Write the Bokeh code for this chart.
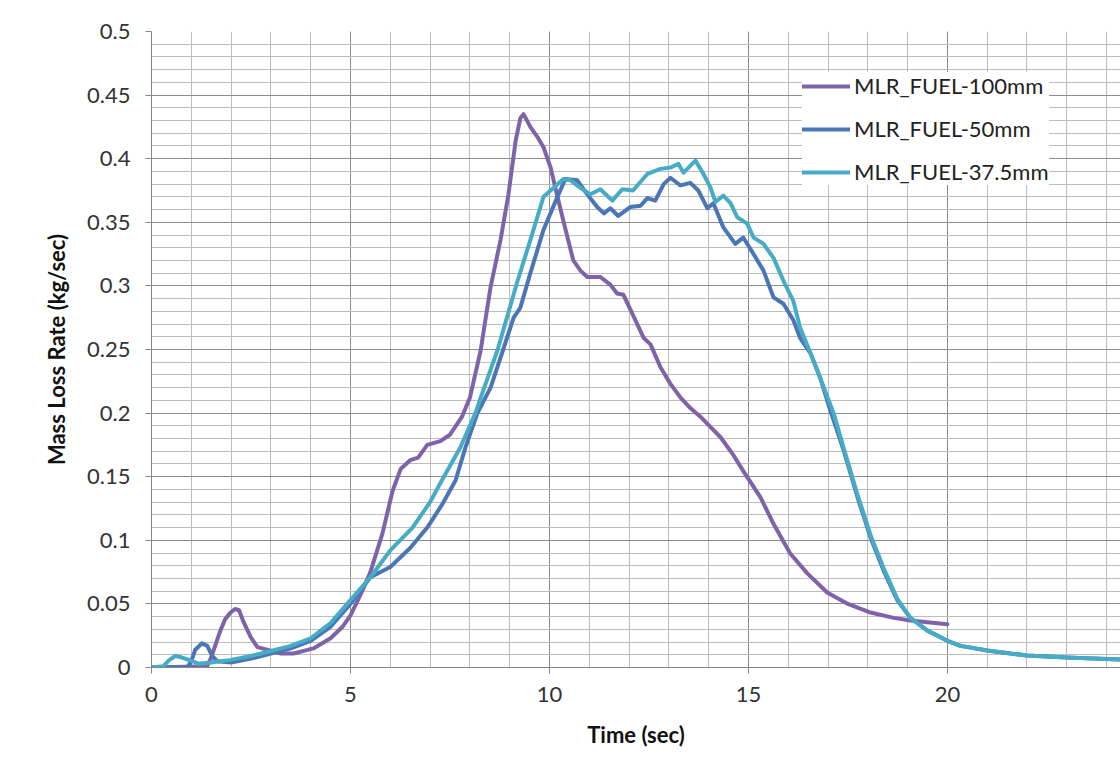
from bokeh.plotting import figure
from bokeh.models import Range1d, FixedTicker, Legend, LegendItem
from bokeh.embed import file_html
from bokeh.resources import INLINE

# ---------------- data ----------------
t_100 = [0, 1.4, 1.5, 1.73, 1.85, 1.98, 2.1, 2.2, 2.31, 2.49, 2.66, 2.9, 3.25, 3.57, 4.07,
         4.5, 4.8, 5.0, 5.25, 5.5, 5.8, 6.06, 6.26, 6.5, 6.7, 6.93, 7.26, 7.5, 7.8, 8.0,
         8.27, 8.52, 8.77, 8.97, 9.15, 9.27, 9.35, 9.52, 9.7, 9.85, 10.03, 10.15, 10.35,
         10.6, 10.78, 10.95, 11.28, 11.53, 11.7, 11.86, 12.1, 12.37, 12.54, 12.79, 13.04,
         13.3, 13.54, 13.8, 14.05, 14.3, 14.6, 14.9, 15.3, 15.63, 16.05, 16.48, 16.98,
         17.5, 18.07, 18.65, 19.07, 19.5, 20.0]
mlr_100 = [0, 0.001, 0.008, 0.029, 0.038, 0.043, 0.046, 0.045, 0.036, 0.024, 0.016, 0.014,
           0.011, 0.011, 0.015, 0.023, 0.032, 0.041, 0.057, 0.075, 0.105, 0.139, 0.156,
           0.163, 0.165, 0.175, 0.178, 0.183, 0.197, 0.212, 0.249, 0.299, 0.336, 0.372,
           0.414, 0.432, 0.435, 0.425, 0.417, 0.409, 0.393, 0.377, 0.351, 0.32, 0.312,
           0.307, 0.307, 0.301, 0.294, 0.293, 0.277, 0.259, 0.254, 0.236, 0.223, 0.212,
           0.204, 0.197, 0.189, 0.181, 0.168, 0.153, 0.134, 0.113, 0.0896, 0.074, 0.059,
           0.050, 0.0432, 0.039, 0.037, 0.0355, 0.034]

t_50 = [0, 0.9, 1.0, 1.1, 1.27, 1.4, 1.53, 1.65, 2.0, 2.5, 3.0, 3.5, 4.0, 4.5, 5.0, 5.5,
        6.0, 6.5, 6.93, 7.3, 7.64, 7.89, 8.19, 8.52, 8.69, 9.1, 9.27, 9.52, 9.85, 10.2,
        10.4, 10.7, 10.95, 11.2, 11.37, 11.53, 11.73, 12.03, 12.29, 12.46, 12.66, 12.87,
        13.04, 13.29, 13.54, 13.74, 13.97, 14.12, 14.37, 14.67, 14.87, 15.13, 15.38,
        15.63, 15.88, 16.13, 16.3, 16.56, 16.8, 17.06, 17.39, 17.74, 18.07, 18.4, 18.74,
        19.07, 19.5, 20.0, 20.33, 21.0, 22.0, 23.0, 24.4]
mlr_50 = [0, 0, 0.005, 0.014, 0.019, 0.017, 0.009, 0.005, 0.004, 0.007, 0.011, 0.015,
          0.021, 0.032, 0.050, 0.071, 0.079, 0.094, 0.11, 0.128, 0.147, 0.173, 0.2, 0.22,
          0.236, 0.275, 0.283, 0.31, 0.344, 0.37, 0.384, 0.383, 0.372, 0.362, 0.357,
          0.361, 0.355, 0.362, 0.363, 0.369, 0.367, 0.380, 0.385, 0.379, 0.381, 0.375,
          0.361, 0.365, 0.346, 0.333, 0.338, 0.325, 0.312, 0.291, 0.286, 0.273, 0.259,
          0.247, 0.228, 0.202, 0.171, 0.134, 0.102, 0.076, 0.053, 0.039, 0.029, 0.021,
          0.017, 0.0134, 0.0094, 0.0079, 0.0063]

t_375 = [0, 0.3, 0.45, 0.6, 0.75, 0.98, 1.18, 1.5, 2.0, 2.5, 3.0, 3.5, 4.0, 4.5, 5.0,
         5.5, 6.0, 6.56, 7.0, 7.26, 7.76, 8.14, 8.27, 8.69, 9.2, 9.52, 9.85, 10.1, 10.35,
         10.53, 10.78, 11.03, 11.28, 11.58, 11.83, 12.1, 12.46, 12.79, 13.04, 13.24,
         13.37, 13.67, 13.87, 14.05, 14.17, 14.37, 14.55, 14.72, 14.97, 15.13, 15.38,
         15.63, 15.88, 16.13, 16.3, 16.56, 16.8, 17.14, 17.39, 17.74, 18.07, 18.4, 18.74,
         19.07, 19.5, 20.0, 20.33, 21.0, 22.0, 23.0, 24.4]
mlr_375 = [0, 0.001, 0.006, 0.009, 0.008, 0.0055, 0.003, 0.004, 0.006, 0.009, 0.013,
           0.017, 0.023, 0.035, 0.053, 0.071, 0.092, 0.11, 0.13, 0.145, 0.173, 0.2,
           0.212, 0.249, 0.304, 0.336, 0.37, 0.377, 0.384, 0.383, 0.377, 0.372, 0.376,
           0.367, 0.376, 0.375, 0.388, 0.392, 0.393, 0.396, 0.389, 0.3985, 0.388, 0.377,
           0.366, 0.371, 0.365, 0.354, 0.349, 0.338, 0.333, 0.322, 0.304, 0.288, 0.267,
           0.247, 0.228, 0.2, 0.173, 0.136, 0.104, 0.078, 0.054, 0.039, 0.029, 0.021,
           0.017, 0.0134, 0.0094, 0.0079, 0.0063]

series_names = ["MLR_FUEL-100mm", "MLR_FUEL-50mm", "MLR_FUEL-37.5mm"]
series_colors = ["#7E63A8", "#4A76B6", "#46ACC6"]

x_ticks = [0, 5, 10, 15, 20]
x_tick_labels = ["0", "5", "10", "15", "20"]
x_minor = list(range(0, 25))
y_ticks = [0, 0.05, 0.1, 0.15, 0.2, 0.25, 0.3, 0.35, 0.4, 0.45, 0.5]
y_tick_labels = ["0", "0.05", "0.1", "0.15", "0.2", "0.25", "0.3", "0.35", "0.4", "0.45", "0.5"]
y_minor = [i / 100 for i in range(0, 51)]

FONT = "Lato"

p = figure(width=1120, height=780, x_range=Range1d(0, 24.35), y_range=Range1d(0, 0.5),
           output_backend="svg", toolbar_location=None,
           min_border_left=151, min_border_right=0, min_border_top=31, min_border_bottom=113)
p.outline_line_color = None
p.background_fill_color = "white"
p.border_fill_color = "white"

p.xaxis.ticker = FixedTicker(ticks=x_ticks, minor_ticks=x_minor)
p.yaxis.ticker = FixedTicker(ticks=y_ticks, minor_ticks=y_minor)
p.xaxis.major_label_overrides = {k: v for k, v in zip(x_ticks, x_tick_labels)}
p.yaxis.major_label_overrides = {k: v for k, v in zip(y_ticks, y_tick_labels)}

for ax in (p.xaxis, p.yaxis):
    ax.axis_line_color = "#868686"
    ax.major_tick_line_color = "#868686"
    ax.major_tick_out = 6
    ax.major_tick_in = 0
    ax.minor_tick_line_color = None
    ax.major_label_text_font = FONT
    ax.major_label_text_font_size = "22px"
    ax.major_label_text_color = "#333333"
    ax.axis_label_text_font = FONT
    ax.axis_label_text_font_style = "bold"
    ax.axis_label_text_font_size = "22px"
    ax.axis_label_text_color = "#111111"

p.xaxis.axis_label = "Time (sec)"
p.yaxis.axis_label = "Mass Loss Rate (kg/sec)"
p.xaxis.major_label_standoff = 13
p.yaxis.major_label_standoff = 15
p.xaxis.axis_label_standoff = 16
p.yaxis.axis_label_standoff = 14

for g in (p.xgrid, p.ygrid):
    g.grid_line_color = "#8c8c8c"
    g.grid_line_width = 1
    g.minor_grid_line_color = "#bdbdbd"
    g.minor_grid_line_width = 1
p.xgrid.ticker = p.xaxis.ticker
p.ygrid.ticker = p.yaxis.ticker

data = [(t_100, mlr_100), (t_50, mlr_50), (t_375, mlr_375)]
items = []
for (tx, vy), name, col in zip(data, series_names, series_colors):
    r = p.line(tx, vy, line_color=col, line_width=4, line_join="round", line_cap="round")
    items.append(LegendItem(label=name, renderers=[r]))

legend = Legend(items=items, location=(651, 482))
legend.background_fill_color = "white"
legend.background_fill_alpha = 1.0
legend.border_line_color = None
legend.label_text_font = FONT
legend.label_text_font_size = "22px"
legend.label_text_color = "#222222"
legend.glyph_width = 48
legend.glyph_height = 26
legend.label_height = 26
legend.spacing = 16
legend.padding = 8
legend.margin = 0
legend.label_standoff = 4
p.add_layout(legend)

open("out.html", "w").write(file_html(p, INLINE))
